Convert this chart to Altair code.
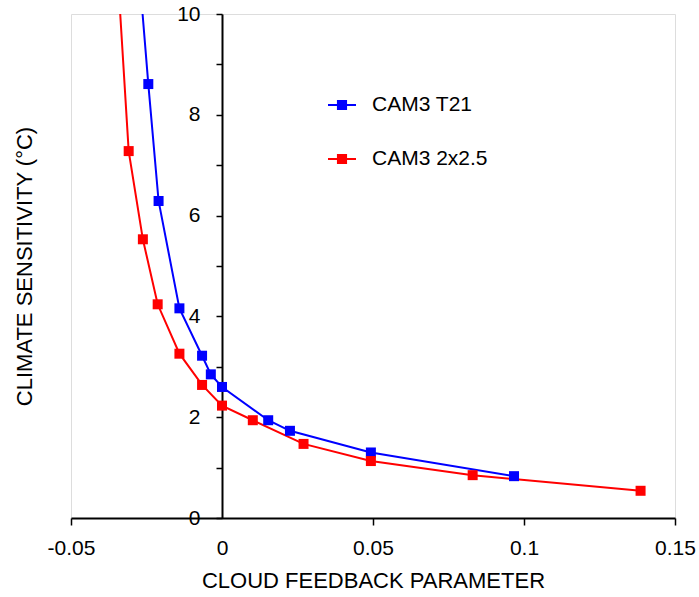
import altair as alt
import pandas as pd

series_names = ["CAM3 T21", "CAM3 2x2.5"]
series_colors = ["#0000FF", "#FF0000"]

# CAM3 T21 (first point: curve continues to the top edge, no marker)
t21_x = [-0.0263, -0.0244, -0.0210, -0.0141, -0.0066, -0.0037, 0.0, 0.0153, 0.0225, 0.0493, 0.0967]
t21_y = [10.0, 8.61, 6.29, 4.16, 3.22, 2.85, 2.60, 1.94, 1.73, 1.30, 0.83]
t21_marker = [False, True, True, True, True, True, True, True, True, True, True]

# CAM3 2x2.5
r_x = [-0.0337, -0.0309, -0.0262, -0.0213, -0.0141, -0.0066, 0.0, 0.0102, 0.0270, 0.0493, 0.0830, 0.1386]
r_y = [10.0, 7.28, 5.53, 4.24, 3.26, 2.64, 2.23, 1.94, 1.47, 1.13, 0.85, 0.54]
r_marker = [False, True, True, True, True, True, True, True, True, True, True, True]

x_ticks = [-0.05, 0, 0.05, 0.1, 0.15]
y_ticks = [0, 1, 2, 3, 4, 5, 6, 7, 8, 9, 10]

df = pd.concat([
    pd.DataFrame({"x": t21_x, "y": t21_y, "marker": t21_marker, "series": series_names[0]}),
    pd.DataFrame({"x": r_x, "y": r_y, "marker": r_marker, "series": series_names[1]}),
], ignore_index=True)

FONT = "Liberation Sans"
W, H = 604, 504

xscale = alt.Scale(domain=[-0.05, 0.15], nice=False, zero=False)
yscale = alt.Scale(domain=[0, 10], nice=False)
cscale = alt.Scale(domain=series_names, range=series_colors)

x_axis = alt.Axis(
    values=x_ticks, grid=False, title="CLOUD FEEDBACK PARAMETER",
    labelExpr="datum.value < 0 ? '-' + format(-datum.value, '~g') : format(datum.value, '~g')",
    labelFontSize=21, labelFont=FONT, labelColor="black", labelPadding=12,
    labelFlush=False, labelOverlap=False,
    tickSize=7, tickWidth=1.5, tickColor="black",
    tickOpacity={"condition": {"test": "datum.value == 0", "value": 0}, "value": 1},
    domainColor="black", domainWidth=2,
    titleFont=FONT, titleFontSize=22, titleFontWeight="normal", titleColor="black",
    titleBaseline="alphabetic", titleY=69,
)

y_axis = alt.Axis(
    values=y_ticks, grid=False, title="CLIMATE SENSITIVITY (°C)",
    labelExpr="datum.value % 2 == 0 ? datum.label : ''",
    offset=-W / 4,
    labelFontSize=21, labelFont=FONT, labelColor="black", labelPadding=16,
    labelFlush=False, labelOverlap=False,
    tickSize=6, tickWidth=1.5, tickColor="black",
    domainColor="black", domainWidth=2,
    titleFont=FONT, titleFontSize=22, titleFontWeight="normal", titleColor="black",
    titleBaseline="alphabetic", titleAngle=-90, titleX=-191, titleY=H / 2,
    titleAlign="center",
)

def make_legend():
    return alt.Legend(
        title=None, orient="none", legendX=256, legendY=76,
        symbolType="M-1,0L1,0M-0.29,-0.29L0.29,-0.29L0.29,0.29L-0.29,0.29Z",
        symbolSize=784, symbolStrokeWidth=2,
        symbolFillColor=alt.ExprRef("scale('color', datum.value)"),
        symbolStrokeColor=alt.ExprRef("scale('color', datum.value)"),
        symbolOpacity=1,
        labelFont=FONT, labelFontSize=21, labelColor="black", labelOffset=15,
        rowPadding=29,
    )

base = alt.Chart(df)

lines = base.mark_line(strokeWidth=2).encode(
    x=alt.X("x:Q", scale=xscale, axis=x_axis),
    y=alt.Y("y:Q", scale=yscale, axis=y_axis),
    color=alt.Color("series:N", scale=cscale, legend=make_legend()),
    detail="series:N",
)

points = base.transform_filter("datum.marker").mark_point(
    shape="square", filled=True, size=100, opacity=1
).encode(
    x=alt.X("x:Q", scale=xscale),
    y=alt.Y("y:Q", scale=yscale),
    color=alt.Color("series:N", scale=cscale, legend=make_legend()),
)

chart = alt.layer(lines, points).properties(
    width=W, height=H,
    autosize=alt.AutoSizeParams(type="none"),
    padding={"left": 71, "top": 14, "right": 24, "bottom": 79},
).configure_view(stroke=None).configure(background="white")

chart.save("out.html", embed_options={"renderer": "svg", "actions": False})
